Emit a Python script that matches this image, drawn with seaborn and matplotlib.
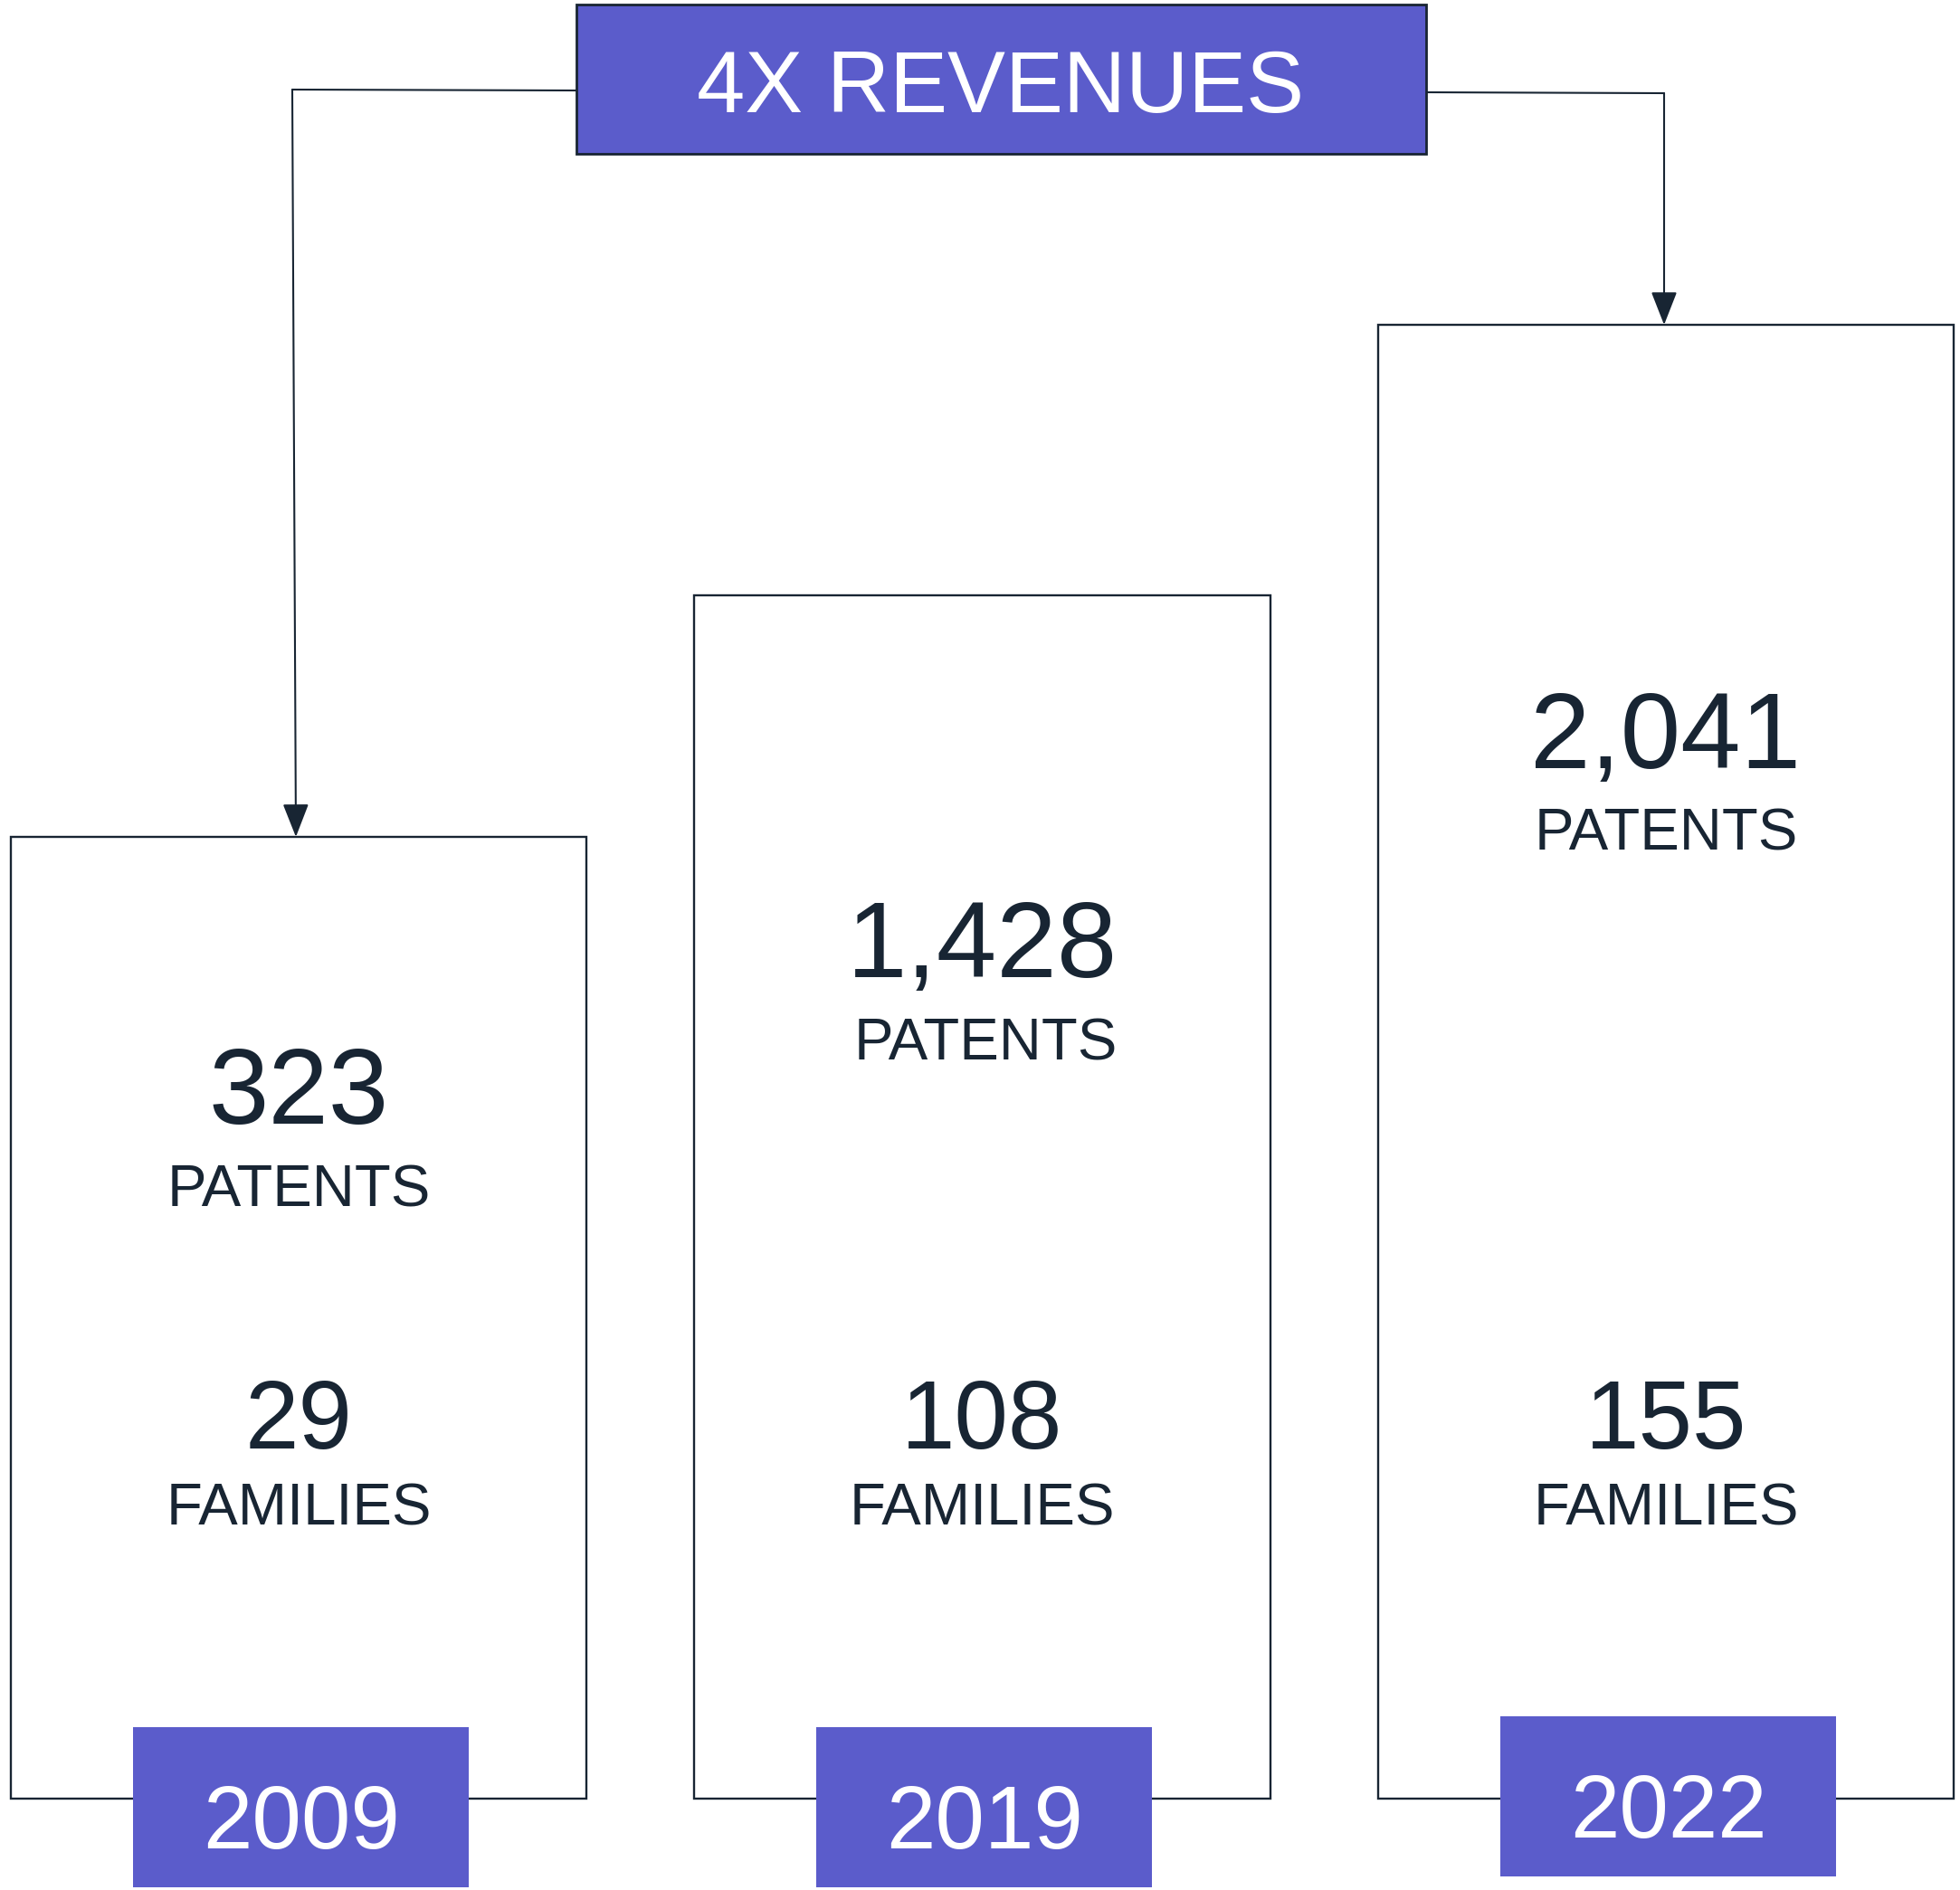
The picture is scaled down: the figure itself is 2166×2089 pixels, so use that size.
import matplotlib
matplotlib.use("Agg")
import matplotlib.pyplot as plt
import seaborn as sns

# Data
years = ["2009", "2019", "2022"]
patents = ["323", "1,428", "2,041"]
families = ["29", "108", "155"]
box_heights = [1063, 1330, 1629]
headline = "4X REVENUES"

PURPLE = "#5b5ccb"
INK = "#182533"

sns.set_style("white")
plt.rcParams["font.family"] = ["Liberation Sans", "DejaVu Sans"]

fig = plt.figure(figsize=(21.66, 20.89), dpi=100)
ax = fig.add_axes([0, 0, 1, 1])

# pixel -> data helpers (bars sit on y=0 at pixel row 1988, category step 755.5 px)
STEP = 755.5

def X(px):
    return (px - 330) / STEP

def Y(py):
    return 1988 - py

# the outlined boxes
sns.barplot(x=years, y=box_heights, color="white", edgecolor=INK, linewidth=1.7,
            width=0.842, saturation=1, ax=ax, zorder=1)

ax.set_xlim(X(0), X(2166))
ax.set_ylim(Y(2089), Y(0))
ax.axis("off")

# year tags at the bottom of each box
lift = [0, 0, 12]
for i, yr in enumerate(years):
    ax.bar(i + 2 / STEP, 177, bottom=Y(2086 - lift[i]), width=371 / STEP,
           color=PURPLE, linewidth=0, zorder=3)
    ax.text(i + 3 / STEP, Y(2043 - lift[i]), yr, color="white", fontsize=70.5,
            ha="center", va="baseline", zorder=4)

# numbers inside the boxes
patent_base = [1242, 1080, 849]
nudge = [0, 4, 0]
for i in range(len(years)):
    ax.text(i, Y(patent_base[i]), patents[i], color=INK, fontsize=86,
            ha="center", va="baseline", zorder=4)
    ax.text(i + nudge[i] / STEP, Y(patent_base[i] + 91), "PATENTS", color=INK,
            fontsize=47, ha="center", va="baseline", zorder=4)
    ax.text(i, Y(1601), families[i], color=INK, fontsize=77,
            ha="center", va="baseline", zorder=4)
    ax.text(i, Y(1686), "FAMILIES", color=INK, fontsize=47,
            ha="center", va="baseline", zorder=4)

# headline box
ax.bar(X(1106.5), 165, bottom=Y(170), width=939 / STEP, color=PURPLE,
       edgecolor=INK, linewidth=2, zorder=3)
ax.text(X(1106), Y(124), headline, color="white", fontsize=69,
        ha="center", va="baseline", zorder=4)

# connector arrows
arrow = dict(arrowstyle="-|>,head_length=2.3,head_width=0.9", mutation_scale=10,
             color=INK, lw=1.5, shrinkA=0, shrinkB=0)
ax.plot([X(637), X(323)], [Y(100), Y(99)], color=INK, lw=1.5, zorder=2)
ax.annotate("", xy=(X(327), Y(925)), xytext=(X(323), Y(99)), arrowprops=arrow)
ax.plot([X(1576), X(1839)], [Y(102), Y(103)], color=INK, lw=1.5, zorder=2)
ax.annotate("", xy=(X(1839), Y(359)), xytext=(X(1839), Y(103)), arrowprops=arrow)

fig.savefig("out.png", dpi=100, facecolor="white")
